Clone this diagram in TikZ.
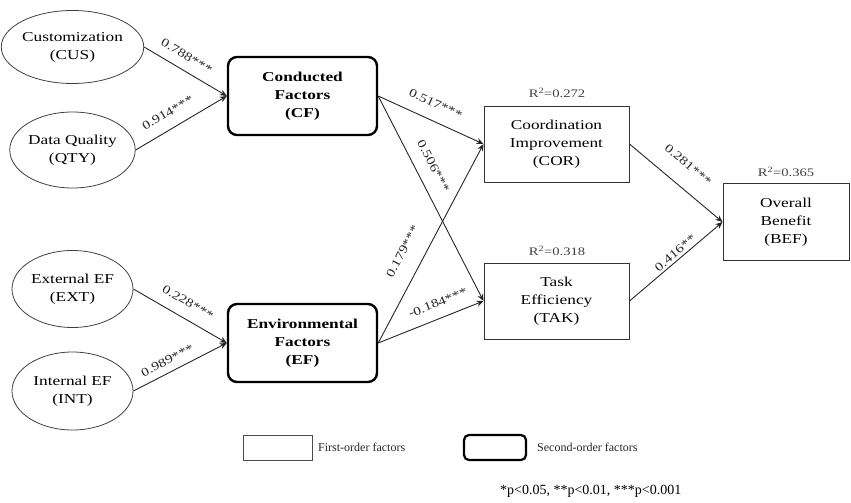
\documentclass[tikz,border=0pt]{standalone}
\usepackage{fontspec}
\setmainfont{Liberation Serif}[FakeStretch=1.27]
\newfontfamily\plainfont{Liberation Serif}
\usetikzlibrary{shapes.geometric,arrows.meta}
\begin{document}
\begin{tikzpicture}[x=1pt,y=-1pt,
  ellnode/.style={ellipse, draw=black!75, line width=0.8pt, minimum width=121pt, inner sep=0pt, align=center, font=\fontsize{13.6}{18}\selectfont},
  secbox/.style={draw=black, line width=2.4pt, rounded corners=9pt, minimum width=149pt, minimum height=78pt, inner sep=0pt, align=center, font=\fontsize{13.6}{18}\selectfont\bfseries},
  firstbox/.style={draw=black!80, line width=1pt, minimum width=145pt, minimum height=76pt, inner sep=0pt, align=center, font=\fontsize{13.6}{18}\selectfont},
  rlabel/.style={text=black!75, inner sep=0pt, font=\fontsize{11.5}{13}\selectfont},
  elabel/.style={sloped, text=black!85, inner sep=0pt, font=\fontsize{12}{14}\selectfont},
  conn/.style={draw=black!85, line width=0.9pt, -{Stealth[length=7pt,width=6pt]}}]
\useasboundingbox (0,0) rectangle (851,503);

% first level
\node[ellnode, minimum height=73pt] (CUS) at (72.5,47) {Customization\\(CUS)};
\node[ellnode, minimum height=76pt] (QTY) at (72.5,150) {Data Quality\\(QTY)};
\node[ellnode, minimum height=77pt] (EXT) at (72.5,289) {External EF\\(EXT)};
\node[ellnode, minimum height=78pt] (INT) at (72.5,391) {Internal EF\\(INT)};

\node[secbox] (CF) at (302.5,96) {Conducted\\Factors\\(CF)};
\node[secbox] (EF) at (302.5,343) {Environmental\\Factors\\(EF)};

\node[firstbox] (COR) at (556.5,144) {Coordination\\Improvement\\(COR)};
\node[firstbox] (TAK) at (556.5,301) {Task\\Efficiency\\(TAK)};
\node[firstbox, minimum width=126pt, minimum height=77pt] (BEF) at (786,222) {Overall\\Benefit\\(BEF)};

\node[rlabel] (rcor) at (557,93) {R\textsuperscript{2}=0.272};
\node[rlabel] (rtak) at (557,251) {R\textsuperscript{2}=0.318};
\node[rlabel] (rbef) at (786,172) {R\textsuperscript{2}=0.365};

% connectors
\draw[conn] (CUS.east) -- node[elabel, pos=.43, above=9.3pt] {0.788***} (CF.west);
\draw[conn] (QTY.east) -- node[elabel, pos=.44, above=11.2pt] {0.914***} (CF.west);
\draw[conn] (EXT.east) -- node[elabel, pos=.50, above=11.3pt] {0.228***} (EF.west);
\draw[conn] (INT.east) -- node[elabel, pos=.42, above=7pt] {0.989***} (EF.west);

\draw[conn] (CF.east) -- node[elabel, pos=.48, above=12.2pt] {0.517***} (COR.west);
\draw[conn] (CF.east) -- node[elabel, pos=.38, above=12.6pt] {0.506***} (TAK.west);
\draw[conn] (EF.east) -- node[elabel, pos=.41, above=16.8pt] {0.179***} (COR.west);
\draw[conn] (EF.east) -- node[elabel, pos=.62, above=10.8pt] {-0.184***} (TAK.west);

\draw[conn] (COR.east) -- node[elabel, pos=.48, above=17.3pt] {0.281***} (BEF.west);
\draw[conn] (TAK.east) -- node[elabel, pos=.54, above=2.4pt] {0.416**} (BEF.west);

% legend
\node[draw=black!70, line width=0.9pt, minimum width=69pt, minimum height=25pt, inner sep=0pt] (lfirst) at (277.5,447.5) {};
\node[anchor=west, inner sep=0pt, font=\plainfont\fontsize{12}{14}\selectfont, text=black!85] (tfirst) at (318,447.5) {First-order factors};
\node[draw=black, line width=2.2pt, rounded corners=5pt, minimum width=62pt, minimum height=25pt, inner sep=0pt] (lsec) at (495,447.5) {};
\node[anchor=west, inner sep=0pt, font=\plainfont\fontsize{12}{14}\selectfont, text=black!85] (tsec) at (537,447.5) {Second-order factors};
\node[anchor=west, inner sep=0pt, font=\plainfont\fontsize{14}{16}\selectfont] (pnote) at (500,491) {*p<0.05, **p<0.01, ***p<0.001};
\end{tikzpicture}
\end{document}
